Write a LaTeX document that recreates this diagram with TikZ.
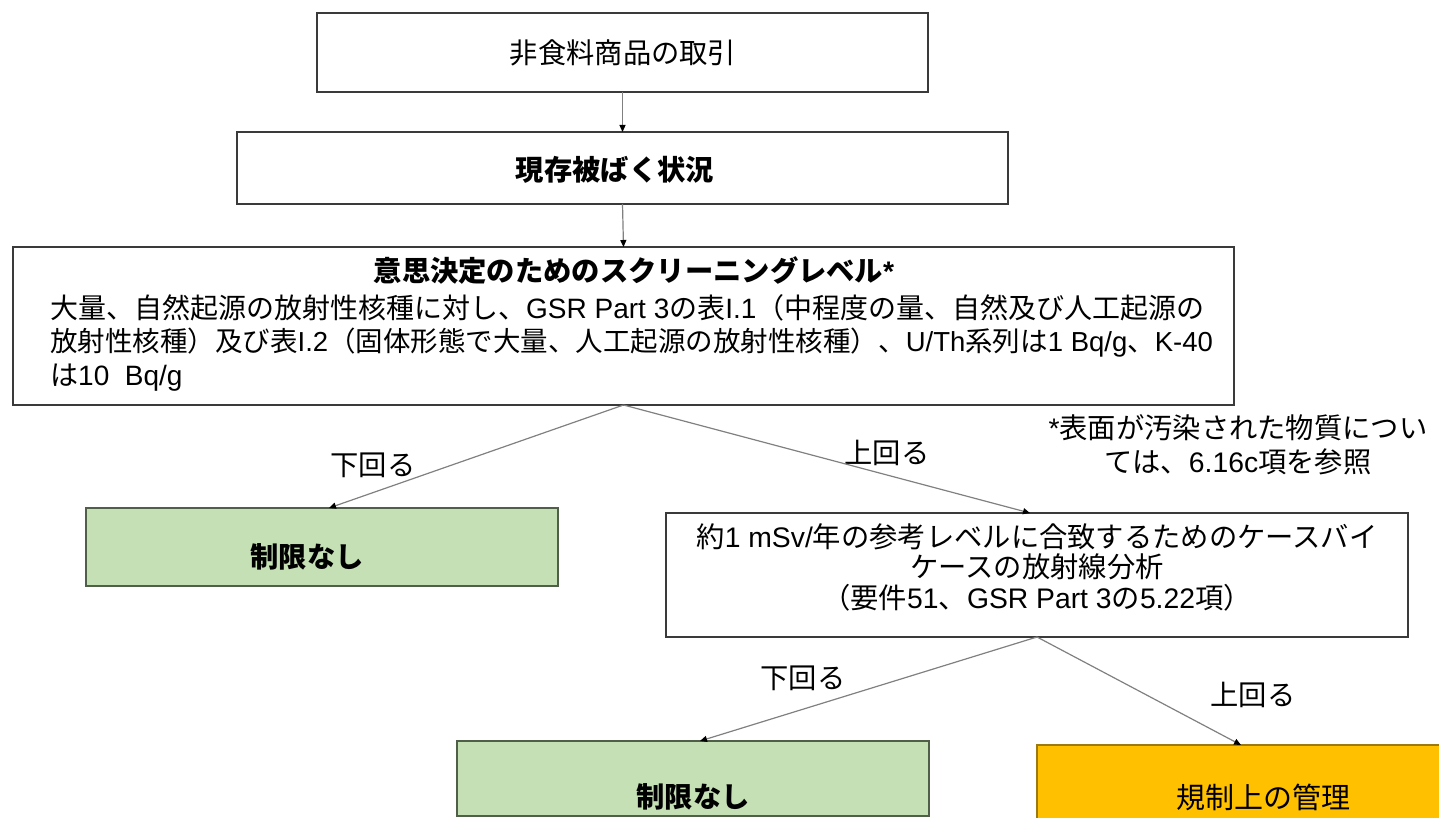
\documentclass[tikz,border=0pt]{standalone}
\usepackage{fontspec}
\setmainfont{Noto Sans CJK JP}
\newfontfamily\la{Liberation Sans}
\usetikzlibrary{arrows.meta,calc}
\definecolor{boxline}{HTML}{3A3A3A}
\definecolor{gfill}{HTML}{C5E0B4}
\definecolor{gline}{HTML}{4F5F48}
\definecolor{ofill}{HTML}{FFC000}
\definecolor{oline}{HTML}{9C7A10}
\definecolor{arr}{HTML}{808080}
\tikzset{
  box/.style={draw=boxline, line width=2pt, fill=white, inner sep=0pt, outer sep=0pt},
  gbox/.style={draw=gline, line width=2pt, fill=gfill, inner sep=0pt, outer sep=0pt},
  obox/.style={draw=oline, line width=2pt, fill=ofill, inner sep=0pt, outer sep=0pt},
  conn/.style={draw=arr, line width=1.2pt, -{Triangle[length=7pt,width=6pt,color=black]}},
  txt/.style={inner sep=0pt, font=\fontsize{28.3}{33}\selectfont},
  btxt/.style={inner sep=0pt, font=\fontsize{28.3}{33}\selectfont\bfseries},
}
\begin{document}
\begin{tikzpicture}[x=1pt,y=-1pt]
\useasboundingbox (0,0) rectangle (1439,818);
\clip (0,0) rectangle (1439,818);
% boxes
\node[box, minimum width=611pt, minimum height=79pt] (b1) at (622.5,52.5) {};
\node[box, minimum width=771pt, minimum height=72pt] (b2) at (622.5,168) {};
\node[box, minimum width=1221pt, minimum height=158pt] (b3) at (623.5,326) {};
\node[gbox, minimum width=472pt, minimum height=78pt] (g1) at (322,547) {};
\node[box, minimum width=742pt, minimum height=124pt] (b4) at (1037,575) {};
\node[gbox, minimum width=472pt, minimum height=75pt] (g2) at (693,778.5) {};
\node[obox, minimum width=408pt, minimum height=95pt] (o1) at (1241,792.5) {};
% texts
\node[txt] (t1) at (623,53) {非食料商品の取引};
\node[btxt] (t2) at (615,170) {現存被ばく状況};
\node[btxt] (t3) at (634,271) {意思決定のためのスクリーニングレベル{\la *}};
\node[txt, anchor=west, font=\fontsize{28}{33}\selectfont] (t4) at (50,308) {大量、自然起源の放射性核種に対し、{\la GSR Part 3}の表{\la I.1}（中程度の量、自然及び人工起源の};
\node[txt, anchor=west, font=\fontsize{27.5}{33}\selectfont] (t5) at (50,343) {放射性核種）及び表{\la I.2}（固体形態で大量、人工起源の放射性核種）、{\la U/Th}系列は{\la 1 Bq/g}、{\la K-40}};
\node[txt, anchor=west, font=\fontsize{28}{33}\selectfont] (t6) at (50,378) {は{\la 10\ \ Bq/g}};
\node[btxt] (t7) at (307,557) {制限なし};
\node[txt, align=center, font=\fontsize{28.3}{30.5}\selectfont] (t8) at (1037,567) {約{\la 1 mSv/}年の参考レベルに合致するためのケースバイ\\ケースの放射線分析\\（要件{\la 51}、{\la GSR Part 3}の{\la 5.22}項）};
\node[txt, align=center, font=\fontsize{28.3}{34}\selectfont] (n1) at (1238,445) {{\la *}表面が汚染された物質につい\\ては、{\la 6.16c}項を参照};
\node[btxt] (t9) at (693,797) {制限なし};
\node[txt, font=\fontsize{29}{33}\selectfont] (t10) at (1263,797) {規制上の管理};
% labels
\node[txt] (l1) at (373,465) {下回る};
\node[txt] (l2) at (887,453) {上回る};
\node[txt] (l3) at (803,678) {下回る};
\node[txt] (l4) at (1253,695) {上回る};
% connectors
\draw[conn] (b1.south) -- (b2.north);
\draw[conn] (b2.south) -- (b3.north);
\draw[conn] (b3.south) -- ($(g1.north)+(7,0)$);
\draw[conn] (b3.south) -- ($(b4.north)+(-7,0)$);
\draw[conn] (b4.south) -- ($(g2.north)+(7,0)$);
\draw[conn] (b4.south) -- (o1.north);
\end{tikzpicture}
\end{document}
